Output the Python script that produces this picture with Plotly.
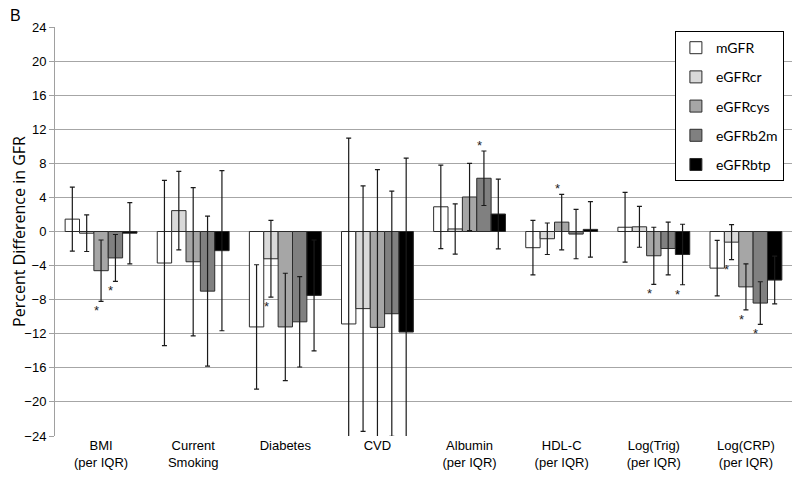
import plotly.graph_objects as go

categories = ["BMI<br>(per IQR)", "Current<br>Smoking", "Diabetes", "CVD",
              "Albumin<br>(per IQR)", "HDL-C<br>(per IQR)", "Log(Trig)<br>(per IQR)",
              "Log(CRP)<br>(per IQR)"]

series_names = ["mGFR", "eGFRcr", "eGFRcys", "eGFRb2m", "eGFRbtp"]

mGFR = [1.45, -3.7, -11.2, -10.85, 2.9, -1.9, 0.5, -4.3]
mGFR_err = [3.75, 9.7, 7.3, 21.8, 4.9, 3.2, 4.1, 3.25]
eGFRcr = [-0.2, 2.45, -3.2, -9.05, 0.3, -0.85, 0.55, -1.25]
eGFRcr_err = [2.15, 4.6, 4.5, 14.4, 2.95, 1.85, 2.4, 2.05]
eGFRcys = [-4.6, -3.55, -11.2, -11.25, 4.05, 1.1, -2.85, -6.5]
eGFRcys_err = [3.6, 8.7, 6.3, 18.5, 3.95, 3.25, 3.35, 2.7]
eGFRb2m = [-3.1, -7.0, -10.6, -9.65, 6.25, -0.3, -2.0, -8.4]
eGFRb2m_err = [2.75, 8.8, 5.3, 14.4, 3.2, 2.9, 3.1, 2.5]
eGFRbtp = [-0.2, -2.25, -7.5, -11.8, 2.05, 0.25, -2.7, -5.7]
eGFRbtp_err = [3.6, 9.4, 6.5, 20.4, 4.1, 3.25, 3.55, 2.8]

values = [mGFR, eGFRcr, eGFRcys, eGFRb2m, eGFRbtp]
errors = [mGFR_err, eGFRcr_err, eGFRcys_err, eGFRb2m_err, eGFRbtp_err]
colors = ["#ffffff", "#d9d9d9", "#a6a6a6", "#808080", "#000000"]

# significance stars: (category index, series index, side)
stars = [(0, 2, "below"), (0, 3, "below"), (2, 1, "below"), (4, 3, "above"),
         (5, 2, "above"), (6, 2, "below"), (6, 4, "below"), (7, 1, "below"),
         (7, 2, "below"), (7, 3, "below")]

y_ticks = [24, 20, 16, 12, 8, 4, 0, -4, -8, -12, -16, -20, -24]

bargap = 0.22
xpos = list(range(len(categories)))

fig = go.Figure()
for i, name in enumerate(series_names):
    fig.add_trace(go.Bar(
        x=xpos, y=values[i], name=name, legendgroup=name,
        marker=dict(color=colors[i], line=dict(color="#2b2b2b", width=1)),
        error_y=dict(type="data", array=errors[i], visible=True,
                     color="#1a1a1a", thickness=1.2, width=2.5),
    ))

n = len(series_names)
bw = (1 - bargap) / n
for ci, si, side in stars:
    xc = ci + (si - (n - 1) / 2) * bw - 0.05
    if side == "below":
        yv = values[si][ci] - errors[si][ci]
        fig.add_annotation(x=xc, y=yv, text="*", showarrow=False, yanchor="top",
                           yshift=0, font=dict(size=13, color="#222",
                                                family="Liberation Sans"))
    else:
        yv = values[si][ci] + errors[si][ci]
        fig.add_annotation(x=xc, y=yv, text="*", showarrow=False, yanchor="bottom",
                           yshift=-4, font=dict(size=13, color="#222",
                                                 family="Liberation Sans"))

fig.add_annotation(xref="paper", yref="paper", x=-0.0638, y=1.0269, text="B",
                   showarrow=False, xanchor="left", yanchor="middle",
                   font=dict(size=16, color="#000", family="Liberation Sans"))

fig.update_layout(
    width=800, height=484,
    margin=dict(l=47, r=16, t=19, b=56),
    paper_bgcolor="white", plot_bgcolor="white",
    barmode="group", bargap=bargap, bargroupgap=0,
    font=dict(family="Liberation Sans", size=13, color="#000"),
    legend=dict(x=0.989, xanchor="right", y=0.99, yanchor="top",
                bgcolor="white", bordercolor="#000", borderwidth=1,
                traceorder="grouped", tracegroupgap=8, itemwidth=30,
                font=dict(family="Lato", size=14, color="#000")),
    xaxis=dict(tickmode="array", tickvals=xpos, ticktext=categories,
               range=[-0.5, len(categories) - 0.5], showgrid=False,
               showline=False, ticks="", zeroline=False, automargin=False,
               tickfont=dict(family="Liberation Sans", size=13)),
    yaxis=dict(range=[-24, 24], tickmode="array", tickvals=y_ticks,
               showgrid=True, gridcolor="#a6a6a6", gridwidth=1,
               zeroline=False, showline=True, linecolor="#a0a0a0", linewidth=1,
               ticks="outside", ticklen=5, tickcolor="#a0a0a0", automargin=False,
               tickfont=dict(family="Liberation Sans", size=13),
               title=dict(text="Percent Difference in GFR", standoff=0,
                          font=dict(family="Open Sans", size=16))),
)

fig.write_html("out.html")
